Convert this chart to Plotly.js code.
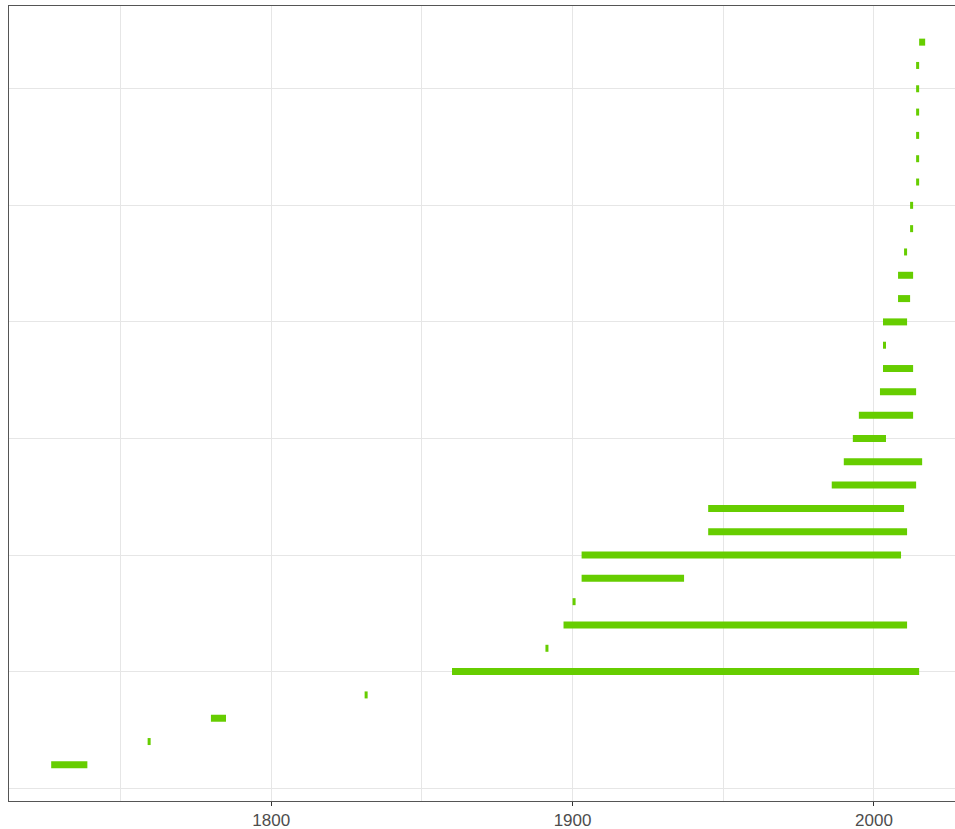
<!DOCTYPE html>
<html>
<head>
<meta charset="utf-8">
<script src="https://cdn.plot.ly/plotly-3.0.1.min.js"></script>
<style>
html, body { margin: 0; padding: 0; background: #ffffff; }
#chart { width: 955px; height: 829px; }
</style>
</head>
<body>
<div id="chart"></div>
<script>
// Row index (bottom = 1) with start and end year of each span
var rows   = [1, 2, 3, 4, 5, 6, 7, 8, 9, 10, 11, 12, 13, 14, 15, 16, 17, 18, 19, 20, 21, 22, 23, 24, 25, 26, 27, 28, 29, 30, 31, 32];
var starts = [1727, 1759, 1780, 1831, 1860, 1891, 1897, 1900, 1903, 1903, 1945, 1945, 1986, 1990, 1993, 1995, 2002, 2003, 2003, 2003, 2008, 2008, 2010, 2012, 2012, 2014, 2014, 2014, 2014, 2014, 2014, 2015];
var ends   = [1739, 1760, 1785, 1832, 2015, 1892, 2011, 1901, 1937, 2009, 2011, 2010, 2014, 2016, 2004, 2013, 2014, 2013, 2004, 2011, 2012, 2013, 2011, 2013, 2013, 2015, 2015, 2015, 2015, 2015, 2015, 2017];
var xTicks = [1800, 1900, 2000];
var xTickLabels = ["1800", "1900", "2000"];

var xs = [], ys = [];
for (var i = 0; i < rows.length; i++) {
  xs.push(starts[i], ends[i], null);
  ys.push(rows[i], rows[i], null);
}

var trace = {
  type: "scatter",
  mode: "lines",
  x: xs,
  y: ys,
  line: { color: "#66CD00", width: 7 },
  hoverinfo: "skip",
  showlegend: false
};

var layout = {
  width: 955,
  height: 829,
  margin: { l: 9, r: 0, t: 6, b: 28 },
  paper_bgcolor: "#ffffff",
  plot_bgcolor: "#ffffff",
  showlegend: false,
  xaxis: {
    range: [1713.0, 2026.9],
    tickmode: "array",
    tickvals: xTicks,
    ticktext: xTickLabels,
    ticks: "outside",
    ticklen: 4,
    tickwidth: 1,
    tickcolor: "#333333",
    tickfont: { family: "Liberation Sans, Arial, sans-serif", size: 17, color: "#4D4D4D" },
    showgrid: true,
    gridcolor: "#E6E6E6",
    gridwidth: 1,
    minor: { tickvals: [1750, 1850, 1950], showgrid: true, gridcolor: "#E6E6E6", gridwidth: 1, ticks: "" },
    zeroline: false,
    showline: true,
    linecolor: "#555555",
    linewidth: 1,
    mirror: true,
    fixedrange: true
  },
  yaxis: {
    range: [-0.55, 33.55],
    tickmode: "linear",
    tick0: 0,
    dtick: 5,
    showticklabels: false,
    ticks: "",
    showgrid: true,
    gridcolor: "#E6E6E6",
    gridwidth: 1,
    zeroline: false,
    showline: true,
    linecolor: "#555555",
    linewidth: 1,
    fixedrange: true
  }
};

Plotly.newPlot("chart", [trace], layout, { displayModeBar: false, staticPlot: true });
</script>
</body>
</html>
